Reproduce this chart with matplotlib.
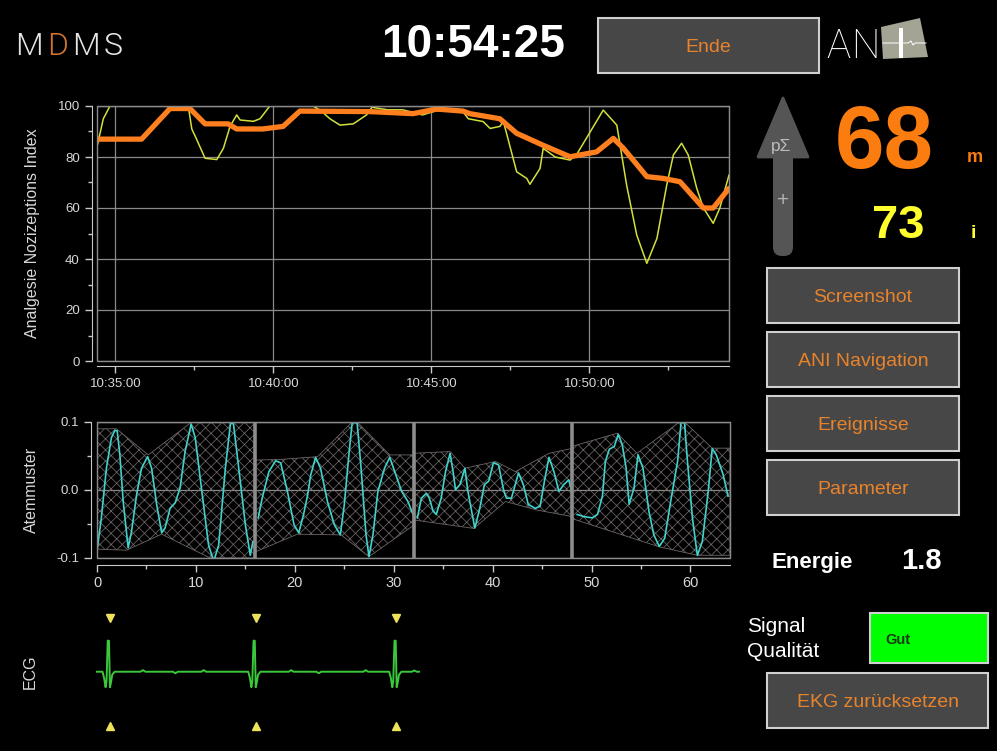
import matplotlib
matplotlib.use("Agg")
import matplotlib.pyplot as plt
from matplotlib.patches import Rectangle, Polygon, FancyBboxPatch

plt.rcParams['font.family'] = ['Liberation Sans', 'DejaVu Sans']
plt.rcParams['hatch.linewidth'] = 0.55

# ---- ANI trend (minutes since window start) ----
ani_start = "10:34:25"
ani_end = "10:54:25"
ani_major_labels = ["10:35:00", "10:40:00", "10:45:00", "10:50:00"]
ani_minor_labels = ["10:37:30", "10:42:30", "10:47:30", "10:52:30"]

ani_m_t = [0, 1.41, 2.31, 2.94, 3.42, 4.15, 4.42, 5.25, 5.89, 6.42, 8.64, 10.0,
           10.75, 11.58, 11.8, 12.75, 13.28, 14.1, 14.97, 15.81, 16.34, 16.66,
           17.4, 17.92, 18.45, 19.19, 19.5, 20.0]
ani_m = [87, 87, 99, 99, 93, 93, 91, 91, 92, 98, 97.8, 97,
         98.8, 98, 97, 95, 89.3, 84.7, 80.1, 82, 87.3, 83.4,
         72.3, 71.6, 70.3, 60, 60, 67.7]

ani_i_t = [0, 0.2, 0.41, 0.5, 0.7, 1.9, 2.09, 2.9, 3.0, 3.15, 3.42, 3.79, 4.0,
           4.21, 4.42, 4.53, 4.95, 5.16, 5.47, 5.6, 6.7, 6.84, 7.1, 7.37, 7.69,
           8.11, 8.53, 8.7, 9.2, 9.68, 10.3, 10.75, 11.58, 11.75, 12.22, 12.44,
           12.75, 12.86, 13.28, 13.6, 13.7, 14.02, 14.12, 14.5, 14.97, 15.18,
           16.02, 16.45, 16.76, 17.08, 17.4, 17.72, 18.03, 18.24, 18.5, 18.71,
           18.98, 19.19, 19.5, 19.71, 20.0]
ani_i = [84, 95, 100, 100, 104, 104, 100, 99, 91, 87, 79.5, 79, 83.4,
         92, 96.5, 94.5, 94, 95, 100, 104, 104, 100, 98, 95, 92.5,
         93, 96.5, 99.5, 98.5, 98.5, 96.5, 98.2, 97.8, 95, 93.9, 91.2,
         92, 94, 74.2, 71.6, 69.3, 75.5, 83.4, 80, 78.8, 81,
         98.4, 92.5, 69, 49.4, 38.3, 48.1, 69, 80.8, 85.4, 80.8,
         67.7, 60, 54, 60, 72.9]

# ---- Atemmuster (4 windows of 16 s) ----
window_edges = [16, 32, 48]
resp_x = [
    [0.04, 0.44, 0.95, 1.46, 1.8, 2.04, 2.31, 2.65, 3.15, 3.49, 4.0, 4.5, 5.12,
     5.52, 6.04, 6.54, 6.88, 7.39, 7.9, 8.4, 8.91, 9.52, 9.93, 10.6, 11.28,
     11.8, 12.3, 12.98, 13.5, 13.8, 14.33, 15.0, 15.5, 15.76],
    [16.3, 16.7, 17.38, 18.06, 18.57, 19.25, 19.92, 20.4, 20.9, 21.3, 21.6,
     22.1, 22.6, 23.3, 23.99, 24.6, 25.0, 25.5, 25.8, 26.3, 26.7, 27.2, 27.5,
     27.9, 28.4, 29.07, 29.6, 30.1, 30.8, 31.44, 31.95],
    [32.39, 32.8, 33.3, 33.6, 33.98, 34.3, 34.8, 35.24, 35.7, 36.0, 36.25,
     36.7, 37.2, 37.5, 38.2, 38.7, 39.17, 39.6, 40.08, 40.6, 41.1, 41.4, 41.9,
     42.62, 43.1, 43.6, 44.3, 44.8, 45.3, 45.7, 46.2, 46.7, 47.2, 47.7, 48.0],
    [48.55, 49.2, 50.08, 50.6, 51.1, 51.4, 51.8, 52.3, 52.7, 53.1, 53.5, 53.8,
     54.3, 54.7, 55.2, 55.8, 56.3, 56.85, 57.4, 58.0, 58.7, 59.05, 59.4, 59.7,
     60.2, 60.7, 61.2, 61.8, 62.2, 62.6, 63.3, 63.8],
]
resp_y = [
    [-0.0855, -0.041, 0.032, 0.077, 0.0875, 0.087, 0.052, -0.017, -0.085,
     -0.061, -0.0075, 0.032, 0.049, 0.032, -0.022, -0.063, -0.056, -0.027,
     -0.019, 0.003, 0.057, 0.097, 0.077, -0.002, -0.081, -0.105, -0.081,
     0.032, 0.099, 0.097, 0.032, -0.051, -0.096, -0.076],
    [-0.041, -0.012, 0.027, 0.043, 0.04, -0.002, -0.051, -0.063, -0.035,
     -0.007, 0.0215, 0.048, 0.032, -0.017, -0.051, -0.066, -0.022, 0.057,
     0.099, 0.099, 0.032, -0.066, -0.098, -0.066, -0.002, 0.032, 0.048,
     0.027, -0.002, -0.017, -0.036],
    [-0.041, -0.012, -0.005, -0.012, -0.031, -0.036, -0.012, 0.027, 0.054,
     0.027, 0.0005, 0.008, 0.032, -0.002, -0.056, -0.027, 0.008, 0.013, 0.04,
     0.037, 0.0005, -0.012, -0.012, 0.025, 0.008, -0.021, -0.027, -0.024,
     0.018, 0.048, 0.027, -0.002, 0.008, 0.015, -0.002],
    [-0.036, -0.039, -0.041, -0.036, -0.009, 0.042, 0.06, 0.064, 0.082, 0.067,
     0.032, -0.021, 0.003, 0.052, 0.032, -0.031, -0.066, -0.083, -0.071,
     -0.017, 0.042, 0.099, 0.099, 0.042, -0.041, -0.096, -0.076, -0.002,
     0.061, 0.052, 0.023, -0.009],
]
env_up_x = [[0, 1.97, 5.18, 9.59, 13.66, 16],
            [16, 18.57, 22.3, 25.8, 26.3, 29.6, 32],
            [32, 35.7, 37.2, 40.3, 42.3, 45.7, 48],
            [48, 52.6, 54.6, 58.9, 59.4, 62.2, 64]]
env_up_y = [[0.09, 0.09, 0.0516, 0.1, 0.1, 0.1],
            [0.044, 0.045, 0.049, 0.1, 0.1, 0.0516, 0.0516],
            [0.054, 0.0565, 0.032, 0.042, 0.027, 0.054, 0.061],
            [0.064, 0.0835, 0.054, 0.1, 0.1, 0.0615, 0.0615]]
env_lo_x = [[0, 2.98, 6.54, 11.45, 16],
            [16, 20.26, 24.67, 27.5, 32],
            [32, 38.1, 41.3, 44.5, 48],
            [48, 56.85, 60.7, 64]]
env_lo_y = [[-0.087, -0.0885, -0.065, -0.1, -0.1],
            [-0.091, -0.065, -0.066, -0.098, -0.052],
            [-0.044, -0.0565, -0.017, -0.0295, -0.039],
            [-0.042, -0.0836, -0.096, -0.096]]

# ---- ECG strip (seconds, mV) ----
ecg_t = [0.0, 0.08, 0.10, 0.118, 0.13, 0.145, 0.16, 0.172, 0.185, 0.20, 0.23,
         0.55, 0.58, 0.61, 0.95, 0.98, 1.01, 1.30, 1.33, 1.36,
         1.88, 1.90, 1.918, 1.93, 1.945, 1.96, 1.972, 1.985, 2.00, 2.03,
         2.38, 2.41, 2.44, 2.72, 2.75, 2.78, 3.30, 3.33, 3.36,
         3.62, 3.64, 3.658, 3.67, 3.685, 3.70, 3.712, 3.725, 3.74, 3.77,
         3.90, 3.93, 3.96, 4.0]
ecg_mv = [0.0, 0.0, -0.2, -0.5, -0.3, 1.0, 1.0, -0.5, -0.35, -0.1, 0.0,
          0.0, 0.05, 0.0, 0.0, -0.05, 0.0, 0.0, 0.05, 0.0,
          0.0, -0.2, -0.5, -0.3, 1.0, 1.0, -0.5, -0.35, -0.1, 0.0,
          0.0, 0.05, 0.0, 0.0, -0.05, 0.0, 0.0, 0.05, 0.0,
          0.0, -0.2, -0.5, -0.3, 1.0, 1.0, -0.5, -0.35, -0.1, 0.0,
          0.0, 0.04, 0.0, 0.0]
ecg_beats = [0.177, 1.97, 3.70]

# ---- right-hand panel ----
ani_mean_value = "68"
ani_inst_value = "73"
energie_value = "1.8"
clock_text = "10:54:25"
panel_buttons = ["Screenshot", "ANI Navigation", "Ereignisse", "Parameter"]

W, H = 997, 751
fig = plt.figure(figsize=(W / 100, H / 100), dpi=100, facecolor='black')

TXT = '#d8d8d8'
GRID = '#8a8a8a'
ORANGE_TXT = '#e8832c'


def px_axes(left, top, right, bottom):
    return fig.add_axes([left / W, 1 - bottom / H, (right - left) / W, (bottom - top) / H])


def minutes_since(start, stamp):
    h0, m0, s0 = map(int, start.split(':'))
    h, m, s = map(int, stamp.split(':'))
    return ((h - h0) * 3600 + (m - m0) * 60 + (s - s0)) / 60


def style_chart(ax):
    ax.set_facecolor('black')
    for s in ['left', 'bottom']:
        ax.spines[s].set_color('#c8c8c8')
    for s in ['top', 'right']:
        ax.spines[s].set_color(GRID)
    ax.add_patch(Rectangle((0, 0), 1, 1, transform=ax.transAxes, fill=False,
                           ec=GRID, lw=1, clip_on=False, zorder=5))
    ax.tick_params(which='both', colors='#c8c8c8', labelcolor=TXT, labelsize=9.5, width=1)
    ax.tick_params(which='major', length=5)
    ax.tick_params(which='minor', length=3)


# overlay in pixel coordinates for the UI chrome
ui = fig.add_axes([0, 0, 1, 1])
ui.set_xlim(0, W)
ui.set_ylim(H, 0)
ui.axis('off')


def button(x0, y0, x1, y1, label, fc='#474747', tc=ORANGE_TXT, fs=14, weight='normal'):
    ui.add_patch(Rectangle((x0, y0), x1 - x0, y1 - y0, fc=fc, ec='#d0d0d0', lw=1.5))
    ui.text((x0 + x1) / 2, (y0 + y1) / 2, label, color=tc, fontsize=fs,
            fontweight=weight, ha='center', va='center_baseline')


# ---- top chart ----
ax1 = px_axes(97, 106, 729, 361)
style_chart(ax1)
ax1.plot(ani_i_t, ani_i, color='#d2e03a', lw=1.1, zorder=3)
ax1.plot(ani_m_t, ani_m, color='#ff7f1e', lw=3.8, solid_capstyle='round', zorder=4)
ax1.set_xlim(0, minutes_since(ani_start, ani_end))
ax1.set_ylim(0, 100)
ax1.spines['left'].set_position(('outward', 3.8))
ax1.spines['bottom'].set_position(('outward', 3.6))
ax1.set_yticks([0, 20, 40, 60, 80, 100])
ax1.set_yticks([10, 30, 50, 70, 90], minor=True)
ax1.set_xticks([minutes_since(ani_start, s) for s in ani_major_labels])
ax1.set_xticklabels(ani_major_labels)
ax1.set_xticks([minutes_since(ani_start, s) for s in ani_minor_labels], minor=True)
ax1.grid(True, which='major', color=GRID, lw=0.9)

# ---- breathing chart ----
ax2 = px_axes(97, 422, 730, 558)
style_chart(ax2)
for k in range(len(resp_x)):
    ax2.fill(env_up_x[k] + env_lo_x[k][::-1], env_up_y[k] + env_lo_y[k][::-1],
             facecolor='none', edgecolor='#6e6666', hatch='xxx', lw=0.6, zorder=2)
    ax2.plot(resp_x[k], resp_y[k], color='#3fd3cc', lw=1.2, zorder=4)
for e in window_edges:
    ax2.axvline(e, color='#8c8c8c', lw=2.6, zorder=5)
ax2.set_xlim(0, 64)
ax2.set_ylim(-0.1, 0.1)
ax2.spines['left'].set_position(('outward', 4.3))
ax2.spines['bottom'].set_position(('outward', 4.8))
ax2.set_yticks([-0.1, 0.0, 0.1])
ax2.set_yticklabels(['-0.1', '0.0', '0.1'])
ax2.set_yticks([-0.05, 0.05], minor=True)
ax2.set_xticks([0, 10, 20, 30, 40, 50, 60])
ax2.set_xticks([5, 15, 25, 35, 45, 55], minor=True)
ax2.tick_params(axis='x', labelsize=10.5)
ax2.grid(True, axis='y', which='major', color=GRID, lw=0.9)

# ---- ECG ----
ax3 = px_axes(96, 610, 420, 735)
ax3.axis('off')
ax3.plot(ecg_t, ecg_mv, color='#3cc83c', lw=1.4)
ax3.plot(ecg_beats, [1.74] * len(ecg_beats), 'v', color='#ede35a', ms=5.5, ls='none')
ax3.plot(ecg_beats, [-1.76] * len(ecg_beats), '^', color='#ede35a', ms=5.5, ls='none')
ax3.set_xlim(0, 4.0)
ax3.set_ylim(-2.04, 1.99)

# ---- axis titles ----
ui.text(32, 233, 'Analgesie Nozizeptions Index', rotation=90, color=TXT,
        fontsize=11.5, ha='center', va='center')
ui.text(31, 490, 'Atemmuster', rotation=90, color=TXT, fontsize=11.5, ha='center', va='center')
ui.text(30, 672, 'ECG', rotation=90, color=TXT, fontsize=11.5, ha='center', va='center')

# ---- header ----
logo_font = dict(family=['Roboto', 'DejaVu Sans'], fontweight=300, fontsize=23, va='baseline', ha='left')
ui.text(15, 55, 'M', color='#e6e6e6', **logo_font)
ui.text(47, 55, 'D', color='#d27530', **logo_font)
ui.text(72, 55, 'M', color='#e6e6e6', **logo_font)
ui.text(104, 55, 'S', color='#e6e6e6', **logo_font)
ui.text(473, 57, clock_text, color='white', fontsize=33, fontweight='bold', ha='center', va='baseline')
button(598, 18, 819, 73, 'Ende')

ui.add_patch(Polygon([(881, 27), (920, 18), (928, 57), (883, 59)], closed=True, fc='#a4a495', ec='none'))
ui.add_patch(Rectangle((899, 28), 4, 30, fc='white', ec='none'))
ui.plot([883, 908, 911, 913, 915, 926], [43, 43, 41, 45, 43, 43], color='white', lw=0.7)
ani_font = dict(family=['Roboto', 'DejaVu Sans'], fontweight=100, fontsize=29, va='baseline', ha='left', color='white')
ui.text(826, 58, 'A', **ani_font)
ui.text(851, 58, 'N', **ani_font)

# ---- right panel ----
ui.add_patch(Polygon([(783, 98), (758, 157), (808, 157)], closed=True, fc='#555555', ec='#555555',
                     lw=2, joinstyle='round'))
ui.add_patch(FancyBboxPatch((773, 150), 20, 106, boxstyle='round,pad=0,rounding_size=9',
                            fc='#555555', ec='none'))
ui.text(781, 147, 'pΣ', color='#bdbdbd', fontsize=12.5, ha='center', va='center')
ui.text(783, 200, '+', color='#b0b0b0', fontsize=15, ha='center', va='center')

ui.text(884, 168, ani_mean_value, color='#fb7d10', fontsize=64, fontweight='bold', ha='center', va='baseline')
ui.text(975, 162, 'm', color='#fb7d10', fontsize=13, fontweight='bold', ha='center', va='baseline')
ui.text(898, 238, ani_inst_value, color='#ffff2e', fontsize=34, fontweight='bold', ha='center', va='baseline')
ui.text(973, 238, 'i', color='#ffff2e', fontsize=14, fontweight='bold', ha='center', va='baseline')

for k, lab in enumerate(panel_buttons):
    y0 = 268 + k * 64
    button(767, y0, 959, y0 + 55, lab)

ui.text(812, 568, 'Energie', color='white', fontsize=16, fontweight='bold', ha='center', va='baseline')
ui.text(921, 569, energie_value, color='white', fontsize=21, fontweight='bold', ha='center', va='baseline')

ui.text(747, 632, 'Signal', color='white', fontsize=15, ha='left', va='baseline')
ui.text(747, 657, 'Qualität', color='white', fontsize=15, ha='left', va='baseline')
ui.add_patch(Rectangle((870, 613), 118, 50, fc='#00ff00', ec='#d0d0d0', lw=1.5))
ui.text(885, 644, 'Gut', color='#183a10', fontsize=10.5, fontweight='bold', ha='left', va='baseline')
button(767, 673, 988, 728, 'EKG zurücksetzen')

fig.savefig('out.png', dpi=100, facecolor='black')
